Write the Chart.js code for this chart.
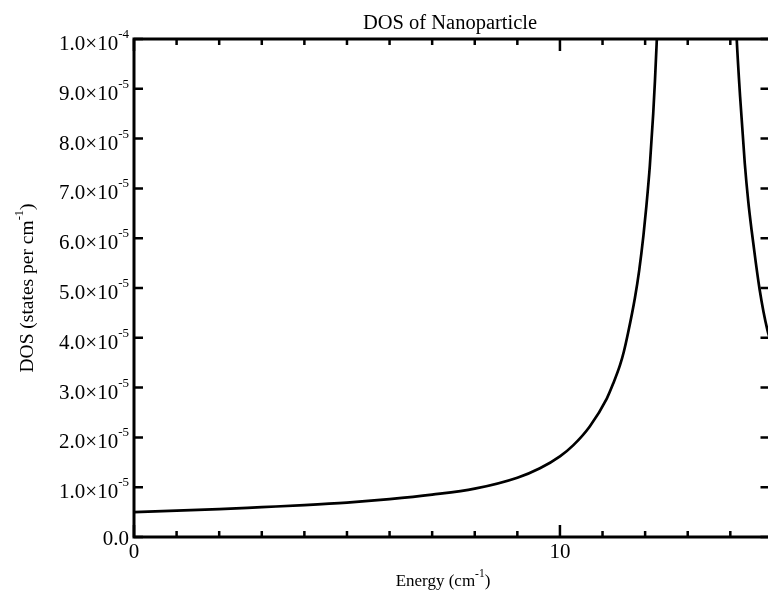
<!DOCTYPE html>
<html>
<head>
<meta charset="utf-8">
<script src="https://cdn.jsdelivr.net/npm/chart.js@4.4.1/dist/chart.umd.min.js"></script>
<style>
html,body{margin:0;padding:0;background:#fff;overflow:hidden;}
#wrap{width:772px;height:593px;}
</style>
</head>
<body>
<div id="wrap"><canvas id="c" width="772" height="593"></canvas></div>
<script>
// ---- data ----
const leftEnergy = [0, 1, 2, 3, 4, 5, 6, 7, 8, 9, 9.53, 10, 10.31, 10.7, 11.1, 11.25, 11.41, 11.5, 11.6, 11.76, 11.86, 11.96, 12.03, 12.11, 12.19, 12.23, 12.27, 12.31];
const leftDos    = [0.50e-5, 0.53e-5, 0.56e-5, 0.60e-5, 0.64e-5, 0.69e-5, 0.76e-5, 0.85e-5, 0.97e-5, 1.19e-5, 1.38e-5, 1.62e-5, 1.84e-5, 2.22e-5, 2.78e-5, 3.08e-5, 3.45e-5, 3.72e-5, 4.10e-5, 4.80e-5, 5.35e-5, 6.05e-5, 6.65e-5, 7.45e-5, 8.50e-5, 9.15e-5, 9.90e-5, 10.7e-5];
const rightEnergy = [14.11, 14.15, 14.23, 14.34, 14.42, 14.5, 14.6, 14.69, 14.78, 14.87, 14.92];
const rightDos    = [10.8e-5, 10.0e-5, 8.84e-5, 7.50e-5, 6.75e-5, 6.16e-5, 5.50e-5, 4.96e-5, 4.52e-5, 4.16e-5, 4.0e-5];

const yTickValues = [0, 1e-5, 2e-5, 3e-5, 4e-5, 5e-5, 6e-5, 7e-5, 8e-5, 9e-5, 1e-4];
const yTickMantissa = ['0.0', '1.0\u00d710', '2.0\u00d710', '3.0\u00d710', '4.0\u00d710', '5.0\u00d710', '6.0\u00d710', '7.0\u00d710', '8.0\u00d710', '9.0\u00d710', '1.0\u00d710'];
const yTickExponent = ['', '-5', '-5', '-5', '-5', '-5', '-5', '-5', '-5', '-5', '-4'];
const xMajorTicks = [0, 10];
const xMajorLabels = ['0', '10'];
const xMinorTicks = [1, 2, 3, 4, 5, 6, 7, 8, 9, 11, 12, 13, 14];
const xMin = 0, xMax = 14.92, yMin = 0, yMax = 1e-4;

const titleText = 'DOS of Nanoparticle';
const xTitleParts = [['Energy (cm', false], ['-1', true], [')', false]];
const yTitleParts = [['DOS (states per cm', false], ['-1', true], [')', false]];

// ---- build dataset ----
const points = [];
leftEnergy.forEach((e, i) => points.push({x: e, y: leftDos[i]}));
points.push({x: 13.2, y: null});
rightEnergy.forEach((e, i) => points.push({x: e, y: rightDos[i]}));

const FONT = '"Liberation Serif", "Times New Roman", serif';

function partsWidth(ctx, parts, size, ssize) {
  let w = 0;
  parts.forEach(([t, sup]) => {
    ctx.font = (sup ? ssize : size) + 'px ' + FONT;
    w += ctx.measureText(t).width;
  });
  return w;
}
// baseline = alphabetic baseline of the main text
function drawParts(ctx, parts, xStart, baseline, size, ssize, raise) {
  let x = xStart;
  parts.forEach(([t, sup]) => {
    ctx.font = (sup ? ssize : size) + 'px ' + FONT;
    ctx.textAlign = 'left';
    ctx.textBaseline = 'alphabetic';
    ctx.fillText(t, x, sup ? baseline - raise : baseline);
    x += ctx.measureText(t).width;
  });
}

const framePlugin = {
  id: 'frame',
  afterDraw(chart) {
    const ctx = chart.ctx;
    const xs = chart.scales.x, ys = chart.scales.y;
    const a = chart.chartArea;
    ctx.save();
    ctx.strokeStyle = '#000';
    ctx.fillStyle = '#000';
    ctx.lineCap = 'butt';
    // ticks
    ctx.lineWidth = 2.5;
    ctx.beginPath();
    yTickValues.forEach(v => {
      const y = ys.getPixelForValue(v);
      ctx.moveTo(a.left, y); ctx.lineTo(a.left + 9, y);
      ctx.moveTo(a.right, y); ctx.lineTo(a.right - 9, y);
    });
    xMajorTicks.forEach(v => {
      const x = xs.getPixelForValue(v);
      ctx.moveTo(x, a.bottom); ctx.lineTo(x, a.bottom - 12);
      ctx.moveTo(x, a.top); ctx.lineTo(x, a.top + 12);
    });
    xMinorTicks.forEach(v => {
      const x = xs.getPixelForValue(v);
      ctx.moveTo(x, a.bottom); ctx.lineTo(x, a.bottom - 6);
      ctx.moveTo(x, a.top); ctx.lineTo(x, a.top + 6);
    });
    ctx.stroke();
    // frame
    ctx.lineWidth = 3;
    ctx.strokeRect(a.left, a.top, a.right - a.left, a.bottom - a.top);

    // y tick labels
    const labelRight = a.left - 5;
    yTickValues.forEach((v, i) => {
      const y = ys.getPixelForValue(v);
      const parts = [[yTickMantissa[i], false]];
      if (yTickExponent[i]) parts.push([yTickExponent[i], true]);
      const w = partsWidth(ctx, parts, 21, 13);
      drawParts(ctx, parts, labelRight - w, y + (yTickExponent[i] ? 11 : 8), 21, 13, 12);
    });
    // x tick labels
    ctx.font = '21px ' + FONT;
    ctx.textAlign = 'center';
    ctx.textBaseline = 'alphabetic';
    xMajorTicks.forEach((v, i) => {
      ctx.fillText(xMajorLabels[i], xs.getPixelForValue(v), a.bottom + 21);
    });
    // title
    ctx.font = '20.5px ' + FONT;
    ctx.fillText(titleText, 450, 29);
    // x axis title
    const wx = partsWidth(ctx, xTitleParts, 17, 11.5);
    drawParts(ctx, xTitleParts, 443 - wx / 2, 586, 17, 11.5, 9);
    // y axis title
    ctx.save();
    ctx.translate(33, (a.top + a.bottom) / 2);
    ctx.rotate(-Math.PI / 2);
    const wy = partsWidth(ctx, yTitleParts, 19.5, 12.5);
    drawParts(ctx, yTitleParts, -wy / 2, 0, 19.5, 12.5, 10);
    ctx.restore();
    ctx.restore();
  }
};

new Chart(document.getElementById('c'), {
  type: 'line',
  data: {
    datasets: [{
      data: points,
      borderColor: '#000',
      borderWidth: 2.7,
      pointRadius: 0,
      fill: false,
      spanGaps: false,
      cubicInterpolationMode: 'monotone',
      clip: 0
    }]
  },
  options: {
    responsive: false,
    animation: false,
    events: [],
    layout: {padding: {left: 134, top: 39, right: 2.5, bottom: 56}},
    plugins: {legend: {display: false}, tooltip: {enabled: false}, title: {display: false}},
    scales: {
      x: {type: 'linear', min: xMin, max: xMax, display: false},
      y: {type: 'linear', min: yMin, max: yMax, display: false}
    }
  },
  plugins: [framePlugin]
});
</script>
</body>
</html>
